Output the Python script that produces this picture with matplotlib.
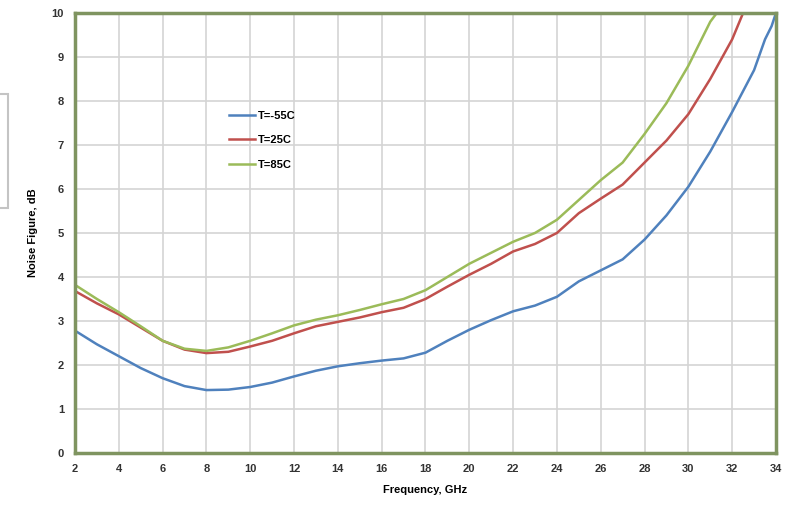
import numpy as np
import matplotlib
matplotlib.use("Agg")
import matplotlib.pyplot as plt

# --- DATA ---
freq_cold = [2, 3, 4, 5, 6, 7, 8, 9, 10, 11, 12, 13, 14, 15, 16, 17, 18, 19, 20,
             21, 22, 23, 24, 25, 26, 27, 28, 29, 30, 31, 32, 33, 33.5, 33.8, 34]
nf_cold = [2.78, 2.47, 2.2, 1.93, 1.7, 1.52, 1.43, 1.44, 1.5, 1.6, 1.74, 1.87, 1.97,
           2.04, 2.1, 2.15, 2.28, 2.55, 2.8, 3.02, 3.22, 3.35, 3.55, 3.9, 4.15, 4.4,
           4.85, 5.4, 6.05, 6.85, 7.75, 8.7, 9.4, 9.7, 10.0]

freq_room = [2, 3, 4, 5, 6, 7, 8, 9, 10, 11, 12, 13, 14, 15, 16, 17, 18, 19, 20,
             21, 22, 23, 24, 25, 26, 27, 28, 29, 30, 31, 32, 32.5]
nf_room = [3.68, 3.4, 3.15, 2.85, 2.55, 2.35, 2.27, 2.3, 2.42, 2.55, 2.72, 2.88, 2.98,
           3.08, 3.2, 3.3, 3.5, 3.78, 4.05, 4.3, 4.58, 4.75, 5.0, 5.45, 5.78, 6.1,
           6.6, 7.1, 7.7, 8.5, 9.4, 10.0]

freq_hot = [2, 3, 4, 5, 6, 7, 8, 9, 10, 11, 12, 13, 14, 15, 16, 17, 18, 19, 20,
            21, 22, 23, 24, 25, 26, 27, 28, 29, 30, 31, 31.3]
nf_hot = [3.82, 3.5, 3.2, 2.88, 2.55, 2.37, 2.32, 2.4, 2.55, 2.72, 2.9, 3.03, 3.13,
          3.25, 3.38, 3.5, 3.7, 4.0, 4.3, 4.55, 4.8, 5.0, 5.3, 5.75, 6.2, 6.6,
          7.25, 7.95, 8.8, 9.8, 10.0]

labels = ["T=-55C", "T=25C", "T=85C"]
colors = ["#4F81BD", "#C0504D", "#9BBB59"]

x_ticks = list(range(2, 35, 2))
y_ticks = list(range(0, 11))

# --- FIGURE ---
plt.rcParams['font.family'] = ['Liberation Sans', 'DejaVu Sans']
fig = plt.figure(figsize=(7.87, 5.07), dpi=100)
ax = fig.add_axes([0.0953, 0.1065, 0.8907, 0.868])

for xs, ys, lab, col in zip([freq_cold, freq_room, freq_hot],
                            [nf_cold, nf_room, nf_hot], labels, colors):
    ax.plot(xs, ys, color=col, lw=1.8, label=lab, solid_joinstyle='round')

ax.set_xlim(2, 34)
ax.set_ylim(0, 10)
ax.set_xticks(x_ticks)
ax.set_yticks(y_ticks)
ax.grid(True, color='#d4d4d4', lw=1.2)
ax.set_axisbelow(True)
ax.tick_params(length=0, labelsize=8, pad=8)
for t in ax.get_xticklabels() + ax.get_yticklabels():
    t.set_fontweight('bold')
    t.set_color('#333333')

for s in ax.spines.values():
    s.set_color('#7f9460')
    s.set_linewidth(2.5)

ax.set_xlabel("Frequency, GHz", fontsize=8, fontweight='bold', labelpad=8)
ax.set_ylabel("Noise Figure, dB", fontsize=8, fontweight='bold', labelpad=10)

leg = ax.legend(loc='upper left', bbox_to_anchor=(0.205, 0.8), frameon=False,
                fontsize=8, handlelength=2.4, labelspacing=1.3, handletextpad=0.2)
for t in leg.get_texts():
    t.set_fontweight('bold')

# faint grey box at the far left of the reference
fig.patches.append(plt.Rectangle((-0.01, 0.59), 0.02, 0.225, transform=fig.transFigure,
                                 fill=False, edgecolor='#c4c4c4', lw=1.5))

fig.savefig("out.png", dpi=100)
